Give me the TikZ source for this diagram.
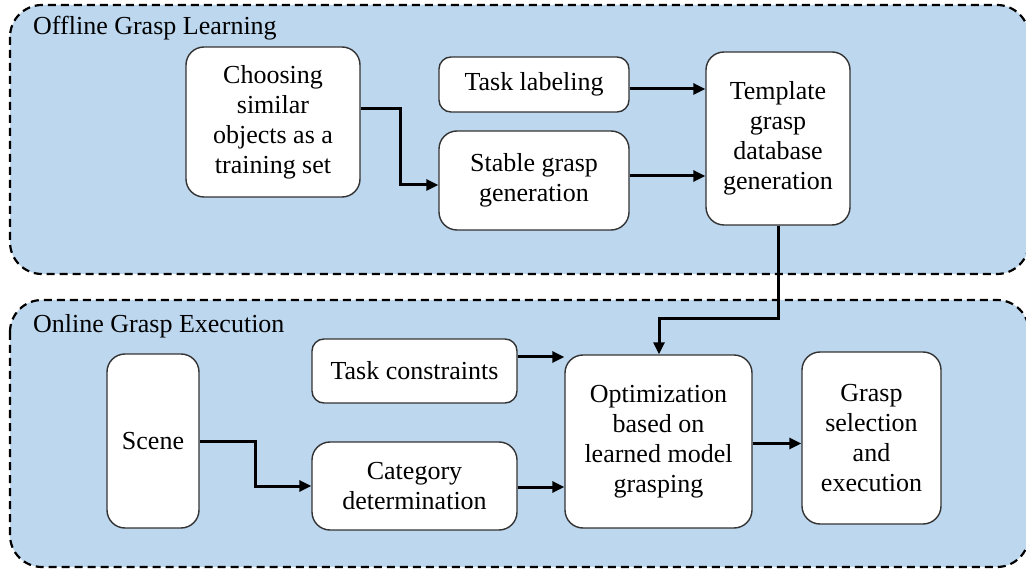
\documentclass[tikz,border=0pt]{standalone}
\usepackage{fontspec}
\setmainfont{Liberation Serif}
\newfontfamily\diagfont{Liberation Serif}
\usetikzlibrary{arrows.meta}
\definecolor{panelblue}{HTML}{BDD7EE}
\definecolor{boxedge}{HTML}{333333}
\tikzset{
  panel/.style={fill=panelblue, draw=black, line width=2.2pt, dash pattern=on 8pt off 5pt, rounded corners=32pt},
  procbox/.style={draw=boxedge, fill=white, line width=1.4pt, rounded corners=18pt, align=center, inner sep=0pt, font=\diagfont\fontsize{26}{30}\selectfont},
  smallbox/.style={procbox, rounded corners=12pt},
  flow/.style={line width=3pt, -{Triangle[length=12pt,width=11pt]}},
  paneltitle/.style={anchor=base west, inner sep=0pt, font=\diagfont\fontsize{26}{30}\selectfont}
}
\begin{document}
\begin{tikzpicture}[x=1pt,y=-1pt]
\useasboundingbox (0,0) rectangle (1026,569);
\clip (0,0) rectangle (1026,569);
% panels
\path[panel] (10,5) rectangle (1029,274);
\path[panel] (10,300) rectangle (1029,567);
\node[paneltitle] (t1) at (33,35) {Offline Grasp Learning};
\node[paneltitle] (t2) at (33,333) {Online Grasp Execution};
% offline nodes
\node[procbox, minimum width=174pt, minimum height=150pt] (choose) at (273,122) {Choosing\\similar\\objects as a\\training set};
\node[smallbox, minimum width=190pt, minimum height=55pt] (label) at (534,84.5) {Task labeling};
\node[procbox, minimum width=190pt, minimum height=99pt] (stable) at (534,180.5) {Stable grasp\\generation};
\node[procbox, minimum width=144pt, minimum height=173pt] (templ) at (778,138.5) {Template\\grasp\\database\\generation};
% online nodes
\node[procbox, minimum width=92pt, minimum height=174pt] (scene) at (153,441) {Scene};
\node[smallbox, minimum width=205pt, minimum height=64pt] (tc) at (414.5,371) {Task constraints};
\node[procbox, minimum width=205pt, minimum height=88pt] (cat) at (414.5,486) {Category\\determination};
\node[procbox, minimum width=187pt, minimum height=173pt] (opt) at (658.5,441.5) {Optimization\\based on\\learned model\\grasping};
\node[procbox, minimum width=139pt, minimum height=172pt] (sel) at (871.5,438) {Grasp\\selection\\and\\execution};
% connectors
\draw[flow] ([yshift=13pt]choose.east) -| (400,185) -- (stable.west |- 0,185);
\draw[flow] ([yshift=-4.5pt]label.east) -- ([yshift=-4.5pt]label.east -| templ.west);
\draw[flow] ([yshift=4.5pt]stable.east) -- ([yshift=4.5pt]stable.east -| templ.west);
\draw[flow] (templ.south) -- (778,319) -| ([xshift=0.5pt]opt.north);
\draw[flow] (scene.east) -| (255,486) -- (cat.west);
\draw[flow] ([yshift=14pt]tc.east) -- ([yshift=14pt]tc.east -| opt.west);
\draw[flow] ([yshift=-1pt]cat.east) -- ([yshift=-1pt]cat.east -| opt.west);
\draw[flow] ([yshift=-2pt]opt.east) -- ([yshift=-2pt]opt.east -| sel.west);
\end{tikzpicture}
\end{document}
